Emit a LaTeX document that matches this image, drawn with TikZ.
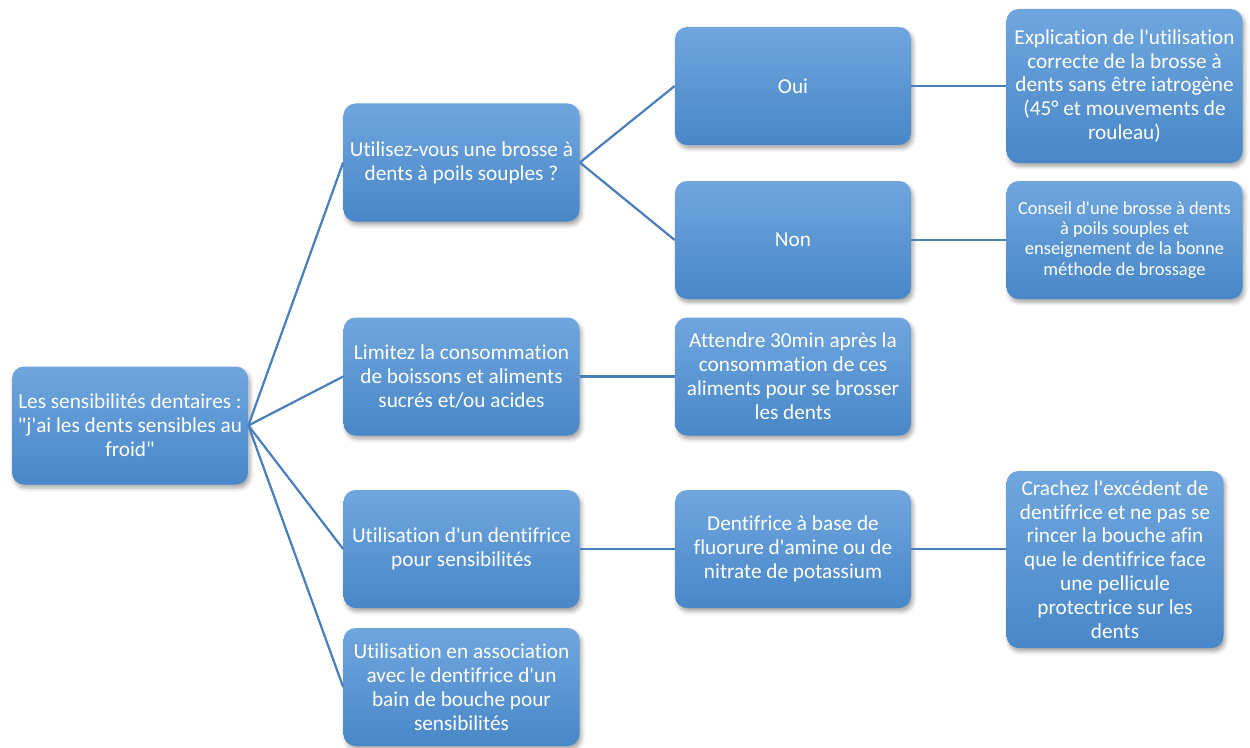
\documentclass[tikz,border=0pt]{standalone}
\usepackage{fontspec}
\setmainfont{Carlito}[Ligatures={TeXOff,CommonOff}]
\usetikzlibrary{positioning,shadows.blur}
\definecolor{boxtop}{RGB}{112,166,222}
\definecolor{boxbot}{RGB}{72,135,200}
\definecolor{linkblue}{RGB}{74,126,187}
\tikzstyle{stepnode}=[rectangle,%
                      rounded corners = 0.24cm,%
                      top color       = boxtop,%
                      bottom color    = boxbot,%
                      text            = white,%
                      align           = center,%
                      font            = \fontsize{12.1}{13.6}\selectfont,%
                      minimum width   = 4.72cm,%
                      minimum height  = 2.36cm,%
                      blur shadow     = {shadow xshift=0.04cm, shadow yshift=-0.07cm, shadow opacity=35, shadow blur radius=0.08cm},%
                      node distance   = 6.63cm]
\tikzstyle{link}=[draw=linkblue, line width=1.25pt]

\begin{document}
\begin{tikzpicture}
            \useasboundingbox (0,0) rectangle (25,14.94);
            \node[stepnode] (root) at (2.6,6.43) {Les sensibilités dentaires :\\"j'ai les dents sensibles au\\froid"};
            \node[stepnode] (q) at (9.23,11.69) {Utilisez-vous une brosse à\\dents à poils souples ?};
            \node[stepnode] (oui) at (15.86,13.22) {Oui};
            \node[stepnode,minimum height=3.08cm][right of=oui] (expl) {Explication de l'utilisation\\correcte de la brosse à\\dents sans être iatrogène\\(45° et mouvements de\\rouleau)};
            \node[stepnode] (non) at (15.86,10.14) {Non};
            \node[stepnode,font=\fontsize{10.5}{11.5}\selectfont][right of=non] (cons) {Conseil d'une brosse à dents\\à poils souples et\\enseignement de la bonne\\méthode de brossage};
            \node[stepnode] (lim) at (9.23,7.41) {Limitez la consommation\\de boissons et aliments\\sucrés et/ou acides};
            \node[stepnode][right of=lim] (att) {Attendre 30min après la\\consommation de ces\\aliments pour se brosser\\les dents};
            \node[stepnode] (util) at (9.23,3.96) {Utilisation d'un dentifrice\\pour sensibilités};
            \node[stepnode][right of=util] (dent) {Dentifrice à base de\\fluorure d'amine ou de\\nitrate de potassium};
            \node[stepnode,minimum width=4.34cm,minimum height=3.54cm][right of=dent,xshift=-0.19cm,yshift=-0.21cm] (cra) {Crachez l'excédent de\\dentifrice et ne pas se\\rincer la bouche afin\\que le dentifrice face\\une pellicule\\protectrice sur les\\dents};
            \node[stepnode] (assoc) at (9.23,1.2) {Utilisation en association\\avec le dentifrice d'un\\bain de bouche pour\\sensibilités};
            \draw [link] (root.east) -- (q.west);
            \draw [link] (root.east) -- (lim.west);
            \draw [link] (root.east) -- (util.west);
            \draw [link] (root.east) -- (assoc.west);
            \draw [link] (q.east) -- (oui.west);
            \draw [link] (q.east) -- (non.west);
            \draw [link] (oui.east) -- (expl.west);
            \draw [link] (non.east) -- (cons.west);
            \draw [link] (lim.east) -- (att.west);
            \draw [link] (util.east) -- (dent.west);
            \draw [link] (dent.east) -- (cra.west |- dent.east);
  \end{tikzpicture}
\end{document}
